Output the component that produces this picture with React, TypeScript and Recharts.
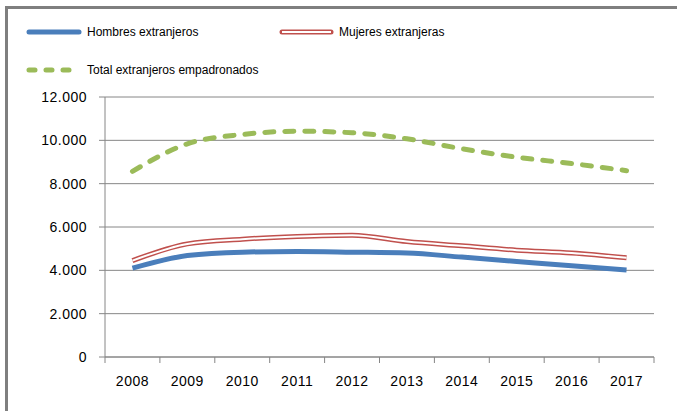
import { LineChart, Line, XAxis, YAxis, CartesianGrid } from "recharts"

const years = ["2008", "2009", "2010", "2011", "2012", "2013", "2014", "2015", "2016", "2017"]
const hombres = [4100, 4680, 4840, 4870, 4840, 4800, 4610, 4410, 4210, 4020]
const mujeres = [4450, 5220, 5440, 5560, 5620, 5330, 5130, 4930, 4800, 4580]
const total = [8570, 9840, 10270, 10420, 10350, 10070, 9610, 9220, 8930, 8600]
const yTicks = [0, 2000, 4000, 6000, 8000, 10000, 12000]

const BLUE = "#4a7ebb"
const RED = "#c0504d"
const GREEN = "#9bbb59"
const GRID = "#868686"
const FONT = "'Liberation Sans', Arial, sans-serif"

const data = years.map((y, i) => ({
  year: y,
  hombres: hombres[i],
  mujeres: mujeres[i],
  total: total[i],
}))

const fmt = (v: number) => v.toString().replace(/\B(?=(\d{3})+(?!\d))/g, ".")

// plot is 549px wide, 10 categories -> half a band of padding each side
const HALF_BAND = 549 / years.length / 2

function YearTick(props: any) {
  const { x, y, payload, index, width, visibleTicksCount } = props
  const band = width / visibleTicksCount
  return (
    <g>
      <line x1={x - band / 2} y1={y} x2={x - band / 2} y2={y + 6} stroke={GRID} />
      {index === visibleTicksCount - 1 && (
        <line x1={x + band / 2} y1={y} x2={x + band / 2} y2={y + 6} stroke={GRID} />
      )}
      <text x={x} y={y + 29} textAnchor="middle" fontSize={14} letterSpacing={0.5} fill="#000" fontFamily={FONT}>
        {payload.value}
      </text>
    </g>
  )
}

function LegendRow() {
  const txt = { position: "absolute" as const, fontSize: 12, fontFamily: FONT, color: "#000", lineHeight: "14px" }
  return (
    <>
      <svg style={{ position: "absolute", left: 0, top: 0 }} width={677} height={90}>
        <line x1={29} y1={32} x2={79} y2={32} stroke={BLUE} strokeWidth={5} strokeLinecap="round" />
        <line x1={282} y1={32} x2={331} y2={32} stroke={RED} strokeWidth={5} strokeLinecap="round" />
        <line x1={282} y1={32} x2={331} y2={32} stroke="#fff" strokeWidth={2} />
        <line x1={29} y1={70} x2={80} y2={70} stroke={GREEN} strokeWidth={5} strokeLinecap="round" strokeDasharray="6 11" />
      </svg>
      <div style={{ ...txt, left: 87, top: 25 }}>Hombres extranjeros</div>
      <div style={{ ...txt, left: 339, top: 25 }}>Mujeres extranjeras</div>
      <div style={{ ...txt, left: 87, top: 63 }}>Total extranjeros empadronados</div>
    </>
  )
}

export default function App() {
  return (
    <div style={{ position: "absolute", left: 0, top: 0, width: 677, height: 411, background: "#fff", overflow: "hidden" }}>
      <div
        style={{
          position: "absolute",
          left: 5,
          top: 6,
          width: 700,
          height: 420,
          borderTop: "3px solid #7f7f7f",
          borderLeft: "3px solid #7f7f7f",
        }}
      />
      <LegendRow />
      <div style={{ position: "absolute", left: 0, top: 0 }}>
        <LineChart width={677} height={411} data={data} margin={{ top: 97, right: 23, left: 25, bottom: 24 }}>
          <CartesianGrid vertical={false} stroke={GRID} />
          <XAxis
            dataKey="year"
            axisLine={{ stroke: GRID }}
            tickLine={false}
            tickSize={0}
            tickMargin={0}
            height={30}
            interval={0}
            padding={{ left: HALF_BAND, right: HALF_BAND }}
            tick={<YearTick />}
          />
          <YAxis
            width={80}
            domain={[0, 12000]}
            ticks={yTicks}
            tickFormatter={fmt}
            axisLine={{ stroke: GRID }}
            tickLine={{ stroke: GRID }}
            tickSize={6}
            tickMargin={12}
            tick={{ fontSize: 14, fill: "#000", fontFamily: FONT, letterSpacing: 0.5 }}
          />
          <Line type="monotone" dataKey="total" stroke={GREEN} strokeWidth={5} strokeDasharray="9 11" strokeLinecap="round" dot={false} isAnimationActive={false} />
          <Line type="monotone" dataKey="hombres" stroke={BLUE} strokeWidth={5} dot={false} isAnimationActive={false} />
          <Line type="monotone" dataKey="mujeres" stroke={RED} strokeWidth={5} dot={false} isAnimationActive={false} />
          <Line type="monotone" dataKey="mujeres" stroke="#fff" strokeWidth={2} dot={false} isAnimationActive={false} legendType="none" />
        </LineChart>
      </div>
    </div>
  )
}
